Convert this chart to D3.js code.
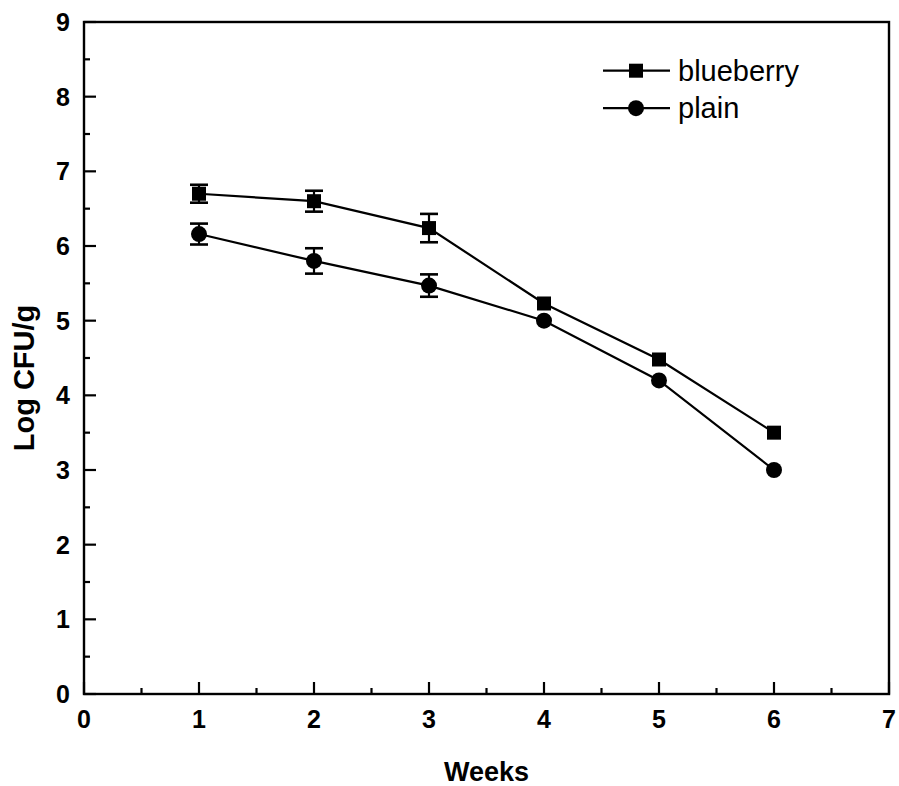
<!DOCTYPE html>
<html>
<head>
<meta charset="utf-8">
<script src="https://cdn.jsdelivr.net/npm/d3@7"></script>
<style>
  html, body { margin: 0; padding: 0; background: #fff; }
  text { font-family: "Liberation Sans", Arial, sans-serif; fill: #000; }
</style>
</head>
<body>
<svg id="chart" width="899" height="786"></svg>
<script>
// values
const weeks = [1, 2, 3, 4, 5, 6]
const blueberry = [6.70, 6.60, 6.24, 5.23, 4.48, 3.50]
const blueberryErr = [0.12, 0.14, 0.19, 0, 0, 0]
const plain = [6.16, 5.80, 5.47, 5.00, 4.20, 3.00]
const plainErr = [0.14, 0.17, 0.15, 0, 0, 0]
const seriesNames = ['blueberry', 'plain']
const xTicks = [0, 1, 2, 3, 4, 5, 6, 7]
const yTicks = [0, 1, 2, 3, 4, 5, 6, 7, 8, 9]

const margin = { top: 22, left: 84 }
const width = 805
const height = 672

const svg = d3.select('#chart')
const g = svg.append('g').attr('transform', `translate(${margin.left},${margin.top})`)

const x = d3.scaleLinear().domain([0, 7]).range([0, width])
const y = d3.scaleLinear().domain([0, 9]).range([height, 0])

// frame
g.append('rect')
  .attr('width', width)
  .attr('height', height)
  .attr('fill', 'none')
  .attr('stroke', '#000')
  .attr('stroke-width', 2.4)

// minor ticks (inward)
const minorX = d3.range(0.5, 7, 1)
const minorY = d3.range(0.5, 9, 1)

const xAxis = g.append('g').attr('transform', `translate(0,${height})`)
xAxis.selectAll('.major').data(xTicks).enter().append('line')
  .attr('x1', d => x(d)).attr('x2', d => x(d))
  .attr('y1', 0).attr('y2', -12)
  .attr('stroke', '#000').attr('stroke-width', 2.2)
xAxis.selectAll('.minor').data(minorX).enter().append('line')
  .attr('x1', d => x(d)).attr('x2', d => x(d))
  .attr('y1', 0).attr('y2', -6)
  .attr('stroke', '#000').attr('stroke-width', 2.2)
xAxis.selectAll('text').data(xTicks).enter().append('text')
  .attr('x', d => x(d))
  .attr('y', 34)
  .attr('text-anchor', 'middle')
  .attr('font-size', 25)
  .attr('font-weight', 'bold')
  .text(d => d)

const yAxis = g.append('g')
yAxis.selectAll('.major').data(yTicks).enter().append('line')
  .attr('x1', 0).attr('x2', 12)
  .attr('y1', d => y(d)).attr('y2', d => y(d))
  .attr('stroke', '#000').attr('stroke-width', 2.2)
yAxis.selectAll('.minor').data(minorY).enter().append('line')
  .attr('x1', 0).attr('x2', 6)
  .attr('y1', d => y(d)).attr('y2', d => y(d))
  .attr('stroke', '#000').attr('stroke-width', 2.2)
yAxis.selectAll('text').data(yTicks).enter().append('text')
  .attr('x', -14)
  .attr('y', d => y(d) + 9)
  .attr('text-anchor', 'end')
  .attr('font-size', 25)
  .attr('font-weight', 'bold')
  .text(d => d)

// axis titles
svg.append('text')
  .attr('x', margin.left + width / 2)
  .attr('y', 781)
  .attr('text-anchor', 'middle')
  .attr('font-size', 27)
  .attr('font-weight', 'bold')
  .text('Weeks')

svg.append('text')
  .attr('transform', 'translate(34,378) rotate(-90)')
  .attr('text-anchor', 'middle')
  .attr('font-size', 29)
  .attr('font-weight', 'bold')
  .text('Log CFU/g')

// series
const series = [
  { name: seriesNames[0], values: blueberry, err: blueberryErr, shape: 'square' },
  { name: seriesNames[1], values: plain, err: plainErr, shape: 'circle' }
]

const line = d3.line()
  .x(d => x(d.week))
  .y(d => y(d.value))

function drawMarker (sel, shape) {
  if (shape === 'square') {
    sel.append('rect')
      .attr('x', -7).attr('y', -7)
      .attr('width', 14).attr('height', 14)
      .attr('fill', '#000')
  } else {
    sel.append('circle')
      .attr('r', 8)
      .attr('fill', '#000')
  }
}

series.forEach(s => {
  const pts = weeks.map((w, i) => ({ week: w, value: s.values[i], err: s.err[i] }))
  const sg = g.append('g')

  sg.append('path')
    .datum(pts)
    .attr('d', line)
    .attr('fill', 'none')
    .attr('stroke', '#000')
    .attr('stroke-width', 2.2)

  // error bars
  const eb = sg.selectAll('.err').data(pts.filter(d => d.err > 0)).enter().append('g')
  eb.append('line')
    .attr('x1', d => x(d.week)).attr('x2', d => x(d.week))
    .attr('y1', d => y(d.value - d.err)).attr('y2', d => y(d.value + d.err))
    .attr('stroke', '#000').attr('stroke-width', 2.2)
  eb.selectAll('.cap').data(d => [d.value - d.err, d.value + d.err].map(v => ({ week: d.week, v }))).enter().append('line')
    .attr('x1', d => x(d.week) - 9).attr('x2', d => x(d.week) + 9)
    .attr('y1', d => y(d.v)).attr('y2', d => y(d.v))
    .attr('stroke', '#000').attr('stroke-width', 2.6)

  sg.selectAll('.pt').data(pts).enter().append('g')
    .attr('transform', d => `translate(${x(d.week)},${y(d.value)})`)
    .each(function () { drawMarker(d3.select(this), s.shape) })
})

// legend
const legend = svg.append('g')
series.forEach((s, i) => {
  const ly = 70.7 + i * 37.5
  const row = legend.append('g')
  row.append('line')
    .attr('x1', 603).attr('x2', 670)
    .attr('y1', ly).attr('y2', ly)
    .attr('stroke', '#000').attr('stroke-width', 2.2)
  const m = row.append('g').attr('transform', `translate(636,${ly})`)
  drawMarker(m, s.shape)
  row.append('text')
    .attr('x', 678)
    .attr('y', ly + 10)
    .attr('font-size', 29)
    .text(s.name)
})
</script>
</body>
</html>
